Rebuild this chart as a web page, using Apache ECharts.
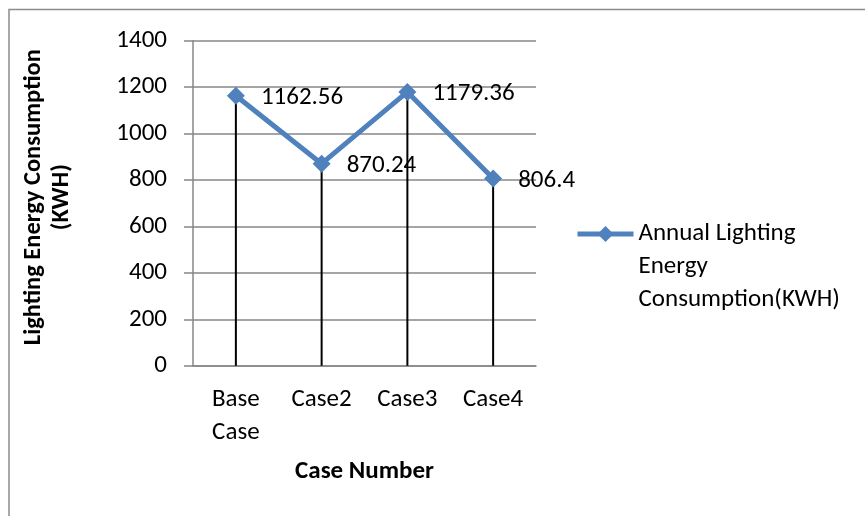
<!DOCTYPE html>
<html>
<head>
<meta charset="utf-8">
<script src="https://cdn.jsdelivr.net/npm/echarts@6/dist/echarts.min.js"></script>
<style>
  html, body { margin: 0; padding: 0; background: #fff; }
  #chart { width: 865px; height: 516px; }
</style>
</head>
<body>
<div id="chart"></div>
<script>
// Annual lighting energy per case
const categories = ['Base\nCase', 'Case2', 'Case3', 'Case4'];
const consumption = [1162.56, 870.24, 1179.36, 806.4];
const seriesName = 'Annual Lighting Energy Consumption(KWH)';
const yTicks = { min: 0, max: 1400, step: 200 };

const FONT = 'Carlito, Lato, "Noto Sans", sans-serif';
const GRID_GREY = '#878787';
const LINE_BLUE = '#4F81BD';
const FS = 25;
const FS_TITLE = 25;

const chart = echarts.init(document.getElementById('chart'), null, { renderer: 'canvas' });

chart.setOption({
  backgroundColor: '#fff',
  animation: false,
  textStyle: { fontFamily: FONT },
  graphic: [{
    type: 'rect',
    shape: { x: 9, y: 9.5, width: 900, height: 560 },
    style: { fill: 'none', stroke: '#8c8c8c', lineWidth: 1.5 },
    silent: true,
    z: -1
  }],
  grid: { left: 193, right: 329, top: 40.7, bottom: 150.3, containLabel: false },
  legend: {
    left: 575,
    top: 151.5,
    padding: 0,
    itemWidth: 56,
    itemHeight: 20,
    itemGap: 0,
    data: [seriesName],
    formatter: () => '\n\nAnnual Lighting\nEnergy\nConsumption(KWH)',
    lineStyle: { width: 5 },
    textStyle: { fontFamily: FONT, fontSize: FS, color: '#000', lineHeight: 33 }
  },
  xAxis: {
    type: 'category',
    data: categories,
    boundaryGap: true,
    axisLine: { show: true, lineStyle: { color: GRID_GREY, width: 1.5 } },
    axisTick: { show: false },
    axisLabel: { color: '#000', fontSize: FS, fontFamily: FONT, lineHeight: 33, margin: 18, interval: 0 },
    name: 'Case Number',
    nameLocation: 'middle',
    nameGap: 94,
    nameTextStyle: { color: '#000', fontSize: FS_TITLE, fontWeight: 'bold', fontFamily: FONT }
  },
  yAxis: {
    type: 'value',
    min: yTicks.min,
    max: yTicks.max,
    interval: yTicks.step,
    axisLine: { show: true, lineStyle: { color: GRID_GREY, width: 1.5 } },
    axisTick: { show: true, inside: false, length: 9, lineStyle: { color: GRID_GREY, width: 1.5 } },
    splitLine: { show: true, lineStyle: { color: GRID_GREY, width: 1.5 } },
    axisLabel: { color: '#000', fontSize: FS, fontFamily: FONT, margin: 26, formatter: v => String(v) },
    name: 'Lighting Energy Consumption\n(KWH)',
    nameLocation: 'middle',
    nameRotate: 90,
    nameGap: 117,
    nameTextStyle: {
      color: '#000', fontSize: 24.5, fontWeight: 'bold', fontFamily: FONT,
      lineHeight: 28, padding: [0, 0, 0, 12]
    }
  },
  series: [
    {
      // vertical drop lines from each point to the axis
      type: 'bar',
      name: 'drop',
      data: consumption,
      barWidth: 2,
      itemStyle: { color: '#000' },
      silent: true,
      z: 1
    },
    {
      type: 'line',
      name: seriesName,
      data: consumption,
      symbol: 'diamond',
      symbolSize: 18,
      lineStyle: { color: LINE_BLUE, width: 5 },
      itemStyle: { color: LINE_BLUE },
      label: {
        show: true,
        position: 'right',
        distance: 16,
        offset: [0, 2],
        color: '#000',
        fontSize: FS,
        fontFamily: FONT
      },
      z: 3
    }
  ]
});
</script>
</body>
</html>
